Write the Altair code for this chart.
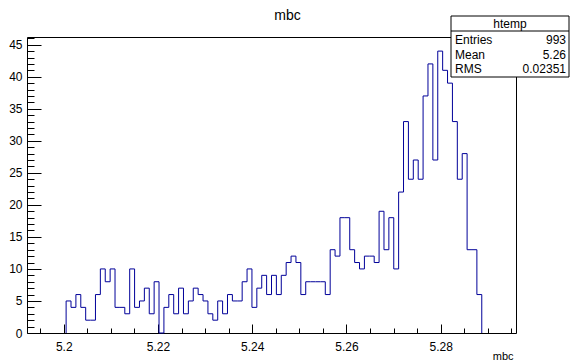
import altair as alt
import pandas as pd

# ---- data (ROOT histogram "htemp" of mbc) ----
counts = [5, 4, 6, 4, 2, 2, 6, 10, 8, 10,
          4, 4, 3, 10, 4, 5, 7, 3, 8, 0,
          4, 6, 3, 7, 3, 5, 7, 6, 5, 3,
          2, 5, 3, 6, 5, 5, 8, 10, 4, 7,
          9, 6, 9, 6, 9, 11, 12, 11, 6, 8,
          8, 8, 8, 6, 13, 12, 18, 18, 13, 11,
          10, 12, 12, 11, 19, 13, 18, 10, 22, 33,
          24, 27, 24, 37, 42, 27, 44, 41, 39, 33,
          24, 28, 13, 13, 6]
x_min, x_max = 5.1922, 5.2960
n_bins = 100
first_bin = 8
y_max = 46.2

x_major = [5.2, 5.22, 5.24, 5.26, 5.28]
x_minor = [5.195, 5.205, 5.21, 5.215, 5.225, 5.23, 5.235, 5.245, 5.25, 5.255,
           5.265, 5.27, 5.275, 5.285, 5.29, 5.295]
y_major = [0, 5, 10, 15, 20, 25, 30, 35, 40, 45]
y_minor = [v for v in range(1, 47) if v % 5 != 0]

stat_title = "htemp"
stat_names = ["Entries", "Mean", "RMS"]
stat_values = ["993", "5.26", "0.02351"]

# ---- build step outline ----
bw = (x_max - x_min) / n_bins
edges = [x_min + (first_bin + i) * bw for i in range(len(counts) + 1)]
xs = [edges[0]] + edges[:-1] + [edges[-1]]
ys = [0] + counts + [0]
hist = pd.DataFrame({"x": xs, "y": ys, "i": list(range(len(xs)))})

W, H = 489, 296
FONT = "Liberation Sans"
xscale = alt.Scale(domain=[x_min, x_max], nice=False, zero=False)
yscale = alt.Scale(domain=[0, y_max], nice=False, zero=False)

line = alt.Chart(hist).mark_line(
    interpolate="step-after", color="#000099", strokeWidth=1
).encode(
    x=alt.X("x:Q", scale=xscale, axis=alt.Axis(
        orient="bottom", values=x_major, format="~g", tickSize=0, grid=False,
        domain=True, domainColor="black", domainWidth=1,
        labelFont=FONT, labelFontSize=12, labelColor="black", labelPadding=8,
        labelFlush=False, labelOverlap=False,
        title="mbc", titleFont=FONT, titleFontSize=11, titleFontWeight="normal",
        titleColor="black", titleX=W - 3, titleY=26, titleAlign="right",
        titleBaseline="alphabetic")),
    y=alt.Y("y:Q", scale=yscale, axis=alt.Axis(
        orient="left", values=y_major, format="d", tickSize=0, grid=False,
        domain=True, domainColor="black", domainWidth=1,
        labelFont=FONT, labelFontSize=12, labelColor="black", labelPadding=5,
        labelFlush=False, labelOverlap=False, title=None)),
    order="i:Q",
)


def tick_layer(xv, yv, xlen, ylen):
    return alt.Chart(hist).mark_point(opacity=0).encode(
        x=alt.X("x:Q", scale=xscale, axis=alt.Axis(
            orient="top", offset=-H, values=xv, tickSize=xlen, tickColor="black",
            tickWidth=1, labels=False, domain=False, grid=False, title=None)),
        y=alt.Y("y:Q", scale=yscale, axis=alt.Axis(
            orient="right", offset=-W, values=yv, tickSize=ylen, tickColor="black",
            tickWidth=1, labels=False, domain=False, grid=False, title=None)),
    )


major_ticks = tick_layer(x_major, y_major, 9, 14)
minor_ticks = tick_layer(x_minor, y_minor, 5, 7)

frame = alt.Chart(hist).mark_point(opacity=0).encode(
    x=alt.X("x:Q", scale=xscale, axis=alt.Axis(
        orient="top", ticks=False, labels=False, domain=True, domainColor="black",
        domainWidth=1, grid=False, title=None)),
    y=alt.Y("y:Q", scale=yscale, axis=alt.Axis(
        orient="right", ticks=False, labels=False, domain=True, domainColor="black",
        domainWidth=1, grid=False, title=None)),
)

one = pd.DataFrame({"k": [0]})
bx0, bx1, by0, by1 = 424, 542, -21, 40
box = alt.Chart(one).mark_rect(fill="white", stroke="black", strokeWidth=1).encode(
    x=alt.value(bx0), x2=alt.value(bx1), y=alt.value(by0), y2=alt.value(by1))
divider = alt.Chart(one).mark_rule(color="black", strokeWidth=1).encode(
    x=alt.value(bx0), x2=alt.value(bx1), y=alt.value(-6))
head = alt.Chart(one).mark_text(font=FONT, fontSize=12, color="black",
                                align="center", baseline="middle").encode(
    x=alt.value((bx0 + bx1) / 2), y=alt.value(-13.5), text=alt.value(stat_title))
rows = []
for i, (nm, vl) in enumerate(zip(stat_names, stat_values)):
    yy = 3 + 14.5 * i
    rows.append(alt.Chart(one).mark_text(font=FONT, fontSize=12, color="black",
                                         align="left", baseline="middle").encode(
        x=alt.value(bx0 + 4), y=alt.value(yy), text=alt.value(nm)))
    rows.append(alt.Chart(one).mark_text(font=FONT, fontSize=12, color="black",
                                         align="right", baseline="middle").encode(
        x=alt.value(bx1 - 3), y=alt.value(yy), text=alt.value(vl)))

chart = alt.layer(
    frame, minor_ticks, major_ticks, line, box, divider, head, *rows
).resolve_axis(
    x="independent", y="independent"
).properties(
    width=W, height=H,
    autosize=alt.AutoSizeParams(type="none"),
    padding={"left": 27, "top": 37, "right": 55, "bottom": 29},
    title=alt.TitleParams("mbc", font=FONT, fontSize=14, fontWeight="normal",
                          color="black", anchor="middle", frame="group",
                          dx=16, offset=0, dy=14, baseline="middle"),
).configure_view(strokeWidth=0).configure(background="white")

chart.save("out.html", embed_options={"renderer": "svg", "actions": False})
